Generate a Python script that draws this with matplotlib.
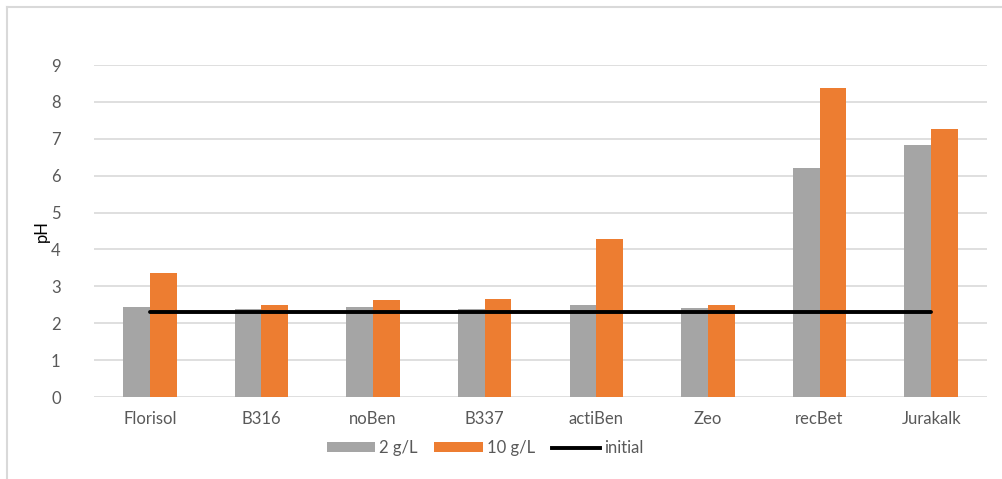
import matplotlib
matplotlib.use("Agg")
import matplotlib.pyplot as plt
from matplotlib.lines import Line2D
from matplotlib.patches import Patch
import numpy as np

categories = ["Florisol", "B316", "noBen", "B337", "actiBen", "Zeo", "recBet", "Jurakalk"]
ph_2gL = [2.43, 2.39, 2.43, 2.39, 2.49, 2.40, 6.21, 6.84]
ph_10gL = [3.35, 2.49, 2.62, 2.67, 4.28, 2.49, 8.38, 7.27]
ph_initial = [2.3] * len(categories)
y_ticks = list(range(0, 10))

plt.rcParams["font.family"] = ["Lato", "DejaVu Sans"]
text_color = "#595959"
grid_color = "#d9d9d9"
gray = "#a5a5a5"
orange = "#ed7d31"

W, H = 1002, 479
fig = plt.figure(figsize=(W / 100, H / 100), dpi=100)
ax = fig.add_axes([94 / W, 1 - 397 / H, (987 - 94) / W, (397 - 65) / H])

x = np.arange(len(categories))
bw = 0.24
ax.bar(x - bw / 2, ph_2gL, width=bw, color=gray, zorder=2)
ax.bar(x + bw / 2, ph_10gL, width=bw, color=orange, zorder=2)
ax.plot(x, ph_initial, color="black", linewidth=2.8, zorder=3, solid_capstyle="round")

ax.set_xlim(-0.5, len(categories) - 0.5)
ax.set_ylim(0, 9)
ax.set_yticks(y_ticks)
ax.set_xticks(x)
ax.set_xticklabels(categories)
ax.yaxis.grid(True, color=grid_color, linewidth=1.2, zorder=0)
ax.set_axisbelow(True)
for s in ax.spines.values():
    s.set_visible(False)
ax.tick_params(axis="both", length=0, labelsize=12, colors=text_color)
ax.tick_params(axis="y", pad=24)
ax.tick_params(axis="x", pad=10)
ax.set_ylabel("pH", fontsize=12, color="black", labelpad=1)

handles = [
    Patch(facecolor=gray, label="2 g/L"),
    Patch(facecolor=orange, label="10 g/L"),
    Line2D([0], [0], color="black", linewidth=2.8, label="initial"),
]
leg = fig.legend(handles=handles, loc="center", bbox_to_anchor=(485 / W, 1 - 448 / H),
                 ncol=3, frameon=False, fontsize=12, handlelength=2.9, handleheight=0.55,
                 handletextpad=0.25, columnspacing=1.0)
for t in leg.get_texts():
    t.set_color(text_color)

# chart frame (top and left edges)
fig.add_artist(Line2D([7 / W, 7 / W], [0, 1 - 7 / H], color=grid_color, linewidth=1.5,
                      transform=fig.transFigure))
fig.add_artist(Line2D([7 / W, 1], [1 - 7 / H, 1 - 7 / H], color=grid_color, linewidth=1.5,
                      transform=fig.transFigure))

fig.savefig("out.png", dpi=100, facecolor="white")
